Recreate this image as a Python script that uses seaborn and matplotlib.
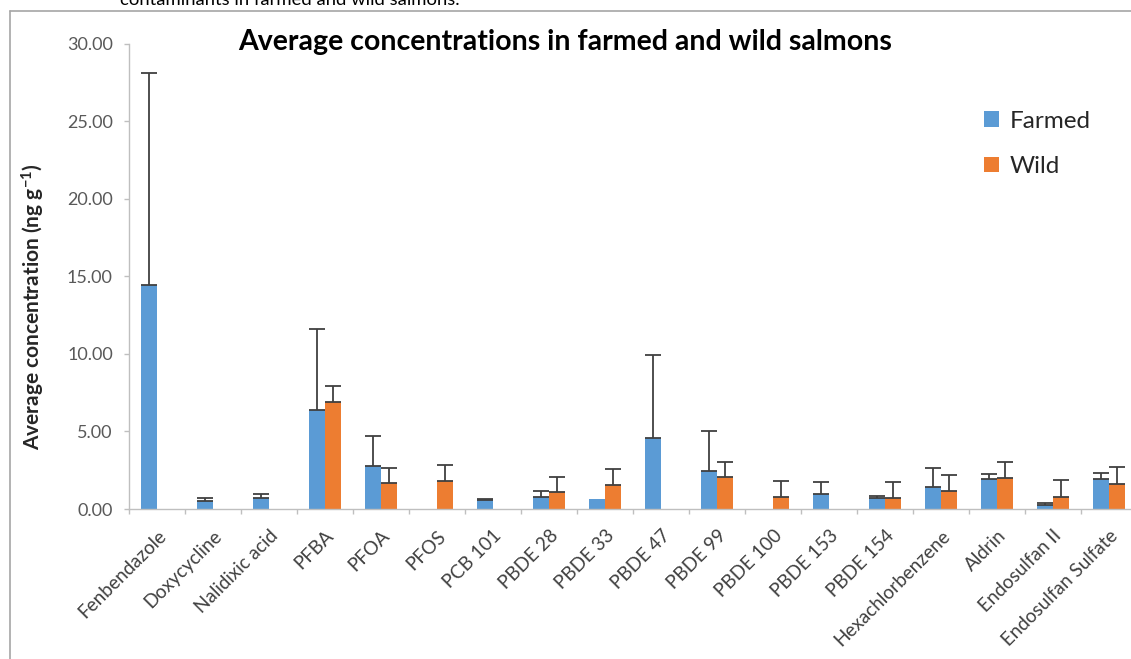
import numpy as np
import pandas as pd
import matplotlib
matplotlib.use("Agg")
import matplotlib.pyplot as plt
from matplotlib.lines import Line2D
import seaborn as sns

nan = np.nan

# Compounds measured (x categories)
compounds = [
    "Fenbendazole", "Doxycycline", "Nalidixic acid", "PFBA", "PFOA", "PFOS",
    "PCB 101", "PBDE 28", "PBDE 33", "PBDE 47", "PBDE 99", "PBDE 100",
    "PBDE 153", "PBDE 154", "Hexachlorbenzene", "Aldrin", "Endosulfan II",
    "Endosulfan Sulfate",
]

# Mean concentrations (ng/g) and standard deviations; NaN = not detected
farmed_mean = [14.45, 0.52, 0.73, 6.38, 2.79, nan, 0.58, 0.79, 0.62, 4.55,
               2.45, nan, 0.97, 0.73, 1.40, 1.91, 0.26, 1.91]
farmed_sd = [13.62, 0.19, 0.24, 5.24, 1.93, nan, 0.08, 0.35, nan, 5.37,
             2.55, nan, 0.77, 0.11, 1.26, 0.36, 0.13, 0.43]
wild_mean = [nan, nan, nan, 6.90, 1.67, 1.80, nan, 1.10, 1.57, nan,
             2.04, 0.79, nan, 0.73, 1.16, 1.98, 0.79, 1.63]
wild_sd = [nan, nan, nan, 1.02, 0.99, 1.05, nan, 0.98, 1.03, nan,
           0.99, 1.01, nan, 1.01, 1.03, 1.05, 1.06, 1.06]

groups = ["Farmed", "Wild"]
colors = ["#5B9BD5", "#ED7D31"]
y_ticks = [0, 5, 10, 15, 20, 25, 30]

W, H = 1131, 659

sns.set_theme(style="white")
plt.rcParams["font.family"] = ["Lato", "DejaVu Sans"]
plt.rcParams["mathtext.fontset"] = "custom"
plt.rcParams["mathtext.rm"] = "Lato"
plt.rcParams["mathtext.default"] = "regular"

rows = []
for g, means, sds in zip(groups, [farmed_mean, wild_mean], [farmed_sd, wild_sd]):
    for c, m, s in zip(compounds, means, sds):
        if not np.isnan(m):
            rows.append({"compound": c, "group": g, "mean": m, "sd": s})
df = pd.DataFrame(rows)

fig = plt.figure(figsize=(W / 100, H / 100), dpi=100)
fig.patch.set_facecolor("white")
ax = fig.add_axes([129 / W, 150 / H, 1008 / W, 465.5 / H])

sns.barplot(data=df, x="compound", y="mean", hue="group", order=compounds,
            hue_order=groups, palette=colors, width=0.57, errorbar=None,
            saturation=1, linewidth=0, ax=ax)

# Upper-only error bars, one per bar, centred on each bar
for container, sds in zip(ax.containers, [farmed_sd, wild_sd]):
    for bar in container:
        h = bar.get_height()
        if np.isnan(h):
            continue
        xc = bar.get_x() + bar.get_width() / 2
        s = sds[int(round(xc))]
        if np.isnan(s):
            continue
        ax.errorbar(xc, h, yerr=[[0], [s]], fmt="none", ecolor="#404040",
                    elinewidth=1.3, capsize=5.5, capthick=1.3, zorder=3)

ax.set_xlim(-0.5, len(compounds) - 0.5)
ax.set_ylim(0, 30)
ax.set_yticks(y_ticks)
ax.set_yticklabels([f"{v:.2f}" for v in y_ticks])
ax.set_xticks(range(len(compounds)))
ax.set_xticklabels(compounds, rotation=45, ha="right", va="top",
                   rotation_mode="anchor")
ax.set_xticks(np.arange(-0.5, len(compounds), 1), minor=True)
ax.set_xlabel("")

axis_gray = "#BFBFBF"
for side in ["top", "right"]:
    ax.spines[side].set_visible(False)
for side in ["left", "bottom"]:
    ax.spines[side].set_color(axis_gray)
    ax.spines[side].set_linewidth(1.0)

ax.tick_params(axis="y", direction="out", length=3.6, width=1.0,
               color=axis_gray, labelcolor="#595959", labelsize=13, pad=8,
               left=True)
ax.tick_params(axis="x", which="major", length=0, labelcolor="#404040",
               labelsize=13.6, pad=13)
ax.tick_params(axis="x", which="minor", direction="out", length=3.6,
               width=1.0, color=axis_gray, bottom=True)

ax.set_ylabel("Average concentration (ng g$^{-1}$)", fontsize=15,
              fontweight="bold", color="#262626", va="center")
ax.yaxis.set_label_coords(-96 / 1008, 0.435)

sns.move_legend(ax, loc="center left", bbox_to_anchor=(962 / W, 1 - 144 / H),
                bbox_transform=fig.transFigure, frameon=False, title=None,
                fontsize=17.5, handlelength=0.62, handleheight=0.62,
                handletextpad=0.45, labelspacing=1.0)
for t in ax.get_legend().get_texts():
    t.set_color("#262626")

fig.text(565 / W, 1 - 42 / H, "Average concentrations in farmed and wild salmons",
         ha="center", va="center", fontsize=20.5, fontweight="bold",
         color="black")

# Surrounding document text and chart frame
fig.text(120 / W, 1 - 5 / H, "contaminants in farmed and wild salmons.",
         ha="left", va="baseline", fontsize=13.3, color="black")
frame = "#A6A6A6"
fig.add_artist(Line2D([9.5 / W, 9.5 / W], [0, 1 - 10.5 / H], color=frame, lw=1.2))
fig.add_artist(Line2D([9.5 / W, 1], [1 - 10.5 / H, 1 - 10.5 / H], color=frame, lw=1.2))

fig.savefig("out.png", dpi=100)
